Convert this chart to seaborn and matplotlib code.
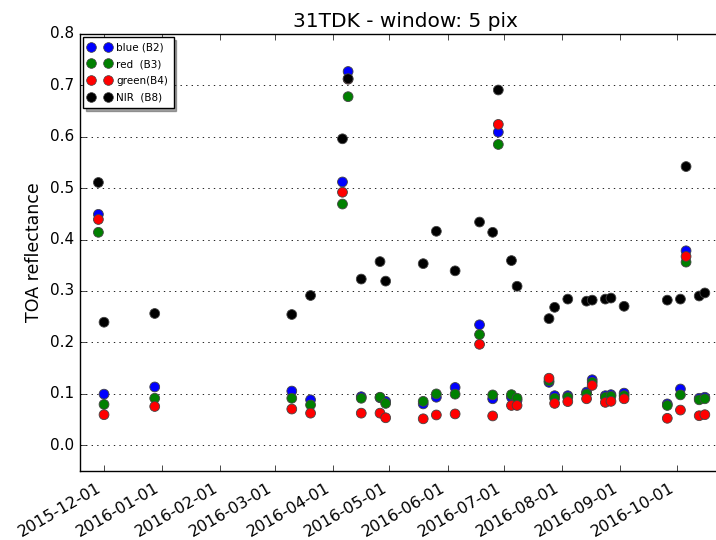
import matplotlib
matplotlib.use("Agg")
import matplotlib.pyplot as plt
import matplotlib.dates as mdates
from matplotlib.lines import Line2D
import numpy as np
import pandas as pd
import seaborn as sns

dates = ["2015-11-28", "2015-12-01", "2015-12-28", "2016-03-10", "2016-03-20",
         "2016-04-06", "2016-04-09", "2016-04-16", "2016-04-26", "2016-04-29",
         "2016-05-19", "2016-05-26", "2016-06-05", "2016-06-18", "2016-06-25",
         "2016-06-28", "2016-07-05", "2016-07-08", "2016-07-25", "2016-07-28",
         "2016-08-04", "2016-08-14", "2016-08-17", "2016-08-24", "2016-08-27",
         "2016-09-03", "2016-09-26", "2016-10-03", "2016-10-06", "2016-10-13",
         "2016-10-16"]

b2 = [0.449, 0.099, 0.113, 0.105, 0.088, 0.512, 0.727, 0.094, 0.092, 0.085,
      0.080, 0.093, 0.112, 0.234, 0.090, 0.609, 0.093, 0.087, 0.122, 0.096,
      0.096, 0.103, 0.127, 0.096, 0.098, 0.101, 0.080, 0.109, 0.378, 0.091,
      0.093]
b3 = [0.414, 0.079, 0.091, 0.091, 0.078, 0.469, 0.678, 0.091, 0.093, 0.081,
      0.085, 0.0995, 0.099, 0.215, 0.0975, 0.585, 0.098, 0.091, 0.125, 0.091,
      0.093, 0.0995, 0.122, 0.093, 0.095, 0.096, 0.077, 0.0976, 0.356, 0.088,
      0.090]
b4 = [0.439, 0.059, 0.075, 0.070, 0.062, 0.492, 0.712, 0.062, 0.062, 0.053,
      0.051, 0.0585, 0.0605, 0.196, 0.0566, 0.624, 0.077, 0.077, 0.130, 0.081,
      0.0845, 0.090, 0.116, 0.083, 0.085, 0.090, 0.052, 0.068, 0.367, 0.057,
      0.059]
b8 = [0.511, 0.239, 0.256, 0.254, 0.291, 0.596, 0.713, 0.323, 0.357, 0.319,
      0.353, 0.416, 0.339, 0.434, 0.414, 0.691, 0.359, 0.309, 0.246, 0.268,
      0.284, 0.280, 0.282, 0.284, 0.286, 0.270, 0.282, 0.284, 0.542, 0.290,
      0.296]

bands = ["blue (B2)", "red  (B3)", "green(B4)", "NIR  (B8)"]
colors = ["#0000ff", "#008000", "#ff0000", "#000000"]

frames = []
for name, vals in zip(bands, [b2, b3, b4, b8]):
    frames.append(pd.DataFrame({"date": pd.to_datetime(dates), "value": vals, "band": name}))
df = pd.concat(frames, ignore_index=True)

plt.style.use("classic")
plt.rcParams["font.family"] = ["DejaVu Sans"]
plt.rcParams["figure.facecolor"] = "white"
plt.rcParams["savefig.facecolor"] = "white"

fig = plt.figure(figsize=(7.16, 5.40), dpi=100)
ax = fig.add_axes([80 / 716, 1 - 470.7 / 540, 650 / 716, (470.7 - 34) / 540])

sns.scatterplot(data=df, x="date", y="value", hue="band", hue_order=bands,
                palette=dict(zip(bands, colors)), s=50, edgecolor="#444444",
                linewidth=0.6, legend=False, ax=ax, zorder=3)

left = pd.Timestamp("2015-12-01") - pd.Timedelta(days=12.8)
right = left + pd.Timedelta(days=346.2)
ax.set_xlim(left, right)
ax.set_ylim(-0.05, 0.8)
ax.set_yticks(np.arange(0, 0.81, 0.1))
ax.yaxis.set_major_formatter(matplotlib.ticker.FormatStrFormatter("%.1f"))
ax.xaxis.set_major_locator(mdates.MonthLocator())
ax.xaxis.set_major_formatter(mdates.DateFormatter("%Y-%m-%d"))
ax.tick_params(axis="y", labelsize=11)
ax.tick_params(axis="x", labelsize=11.5, pad=7)
for lab in ax.get_xticklabels():
    lab.set_rotation(30)
    lab.set_ha("right")

ax.yaxis.grid(True, linestyle=":", color="black", linewidth=0.6)
ax.xaxis.grid(False)
ax.set_xlabel("")
ax.set_ylabel("TOA reflectance", fontsize=12.5)
ax.set_title("31TDK - window: 5 pix", fontsize=14.5)

handles = [Line2D([], [], marker="o", linestyle="", color=c, markeredgecolor="#444444",
                  markeredgewidth=0.5, markersize=7) for c in colors]
leg = ax.legend(handles, bands, loc="upper left", numpoints=2, fontsize=7.5,
                shadow=True, fancybox=False, borderaxespad=0.3, handlelength=2.2,
                labelspacing=0.65, borderpad=0.5, handletextpad=0.5)

fig.savefig("out.png", dpi=100)
